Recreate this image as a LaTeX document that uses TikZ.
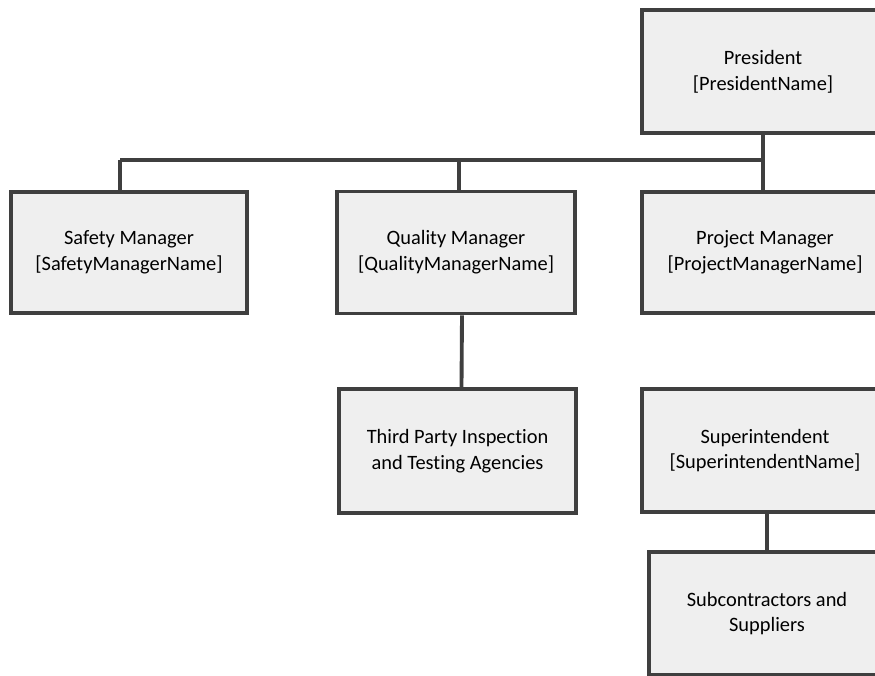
\documentclass[tikz,border=0pt]{standalone}
\usepackage{fontspec}
\setmainfont[Ligatures={NoCommon}]{Carlito}
\definecolor{linec}{HTML}{3F3F3F}
\definecolor{boxf}{HTML}{EFEFEF}
\tikzset{
  box/.style={draw=linec, fill=boxf, line width=2.9pt, align=center,
    font=\fontsize{15.3}{19.3}\selectfont, inner sep=0pt, text=black},
  conn/.style={draw=linec, line width=2.9pt}
}
\begin{document}
\begin{tikzpicture}[x=0.75pt,y=-0.75pt]
\useasboundingbox (0,0) rectangle (875,675);
\clip (0,0) rectangle (875,675);
\node[box, minimum width=181.5pt, minimum height=92.25pt] (pres) at (763,71.5) {President\\{[PresidentName]}};
\node[box, minimum width=177pt, minimum height=90.75pt] (safety) at (129,252.5) {Safety Manager\\{[SafetyManagerName]}};
\node[box, minimum width=178.5pt, minimum height=91.5pt] (quality) at (456,252.5) {Quality Manager\\{[QualityManagerName]}};
\node[box, minimum width=184.5pt, minimum height=90.75pt] (pm) at (765,252.5) {Project Manager\\{[ProjectManagerName]}};
\node[box, minimum width=177.75pt, minimum height=93pt] (third) at (457.5,451) {Third Party Inspection\\and Testing Agencies};
\node[box, minimum width=184.5pt, minimum height=92.25pt] (super) at (765,450.5) {Superintendent\\{[SuperintendentName]}};
\node[box, minimum width=177pt, minimum height=92.25pt] (sub) at (767,613.5) {Subcontractors and\\Suppliers};
\coordinate (busL) at (120,160);
\coordinate (busQ) at (459,160);
\coordinate (busR) at (763,160);
\draw[conn] (busL) -- (busR);
\draw[conn] (pres.south) -- (busR);
\draw[conn] (busR) -- (busR |- pm.north);
\draw[conn] (busL) -- (busL |- safety.north);
\draw[conn] (busQ) -- (busQ |- quality.north);
\draw[conn] ([xshift=4.5pt]quality.south) -- ([xshift=3pt]third.north);
\draw[conn] ([xshift=1.5pt]super.south) -- (sub.north);
\end{tikzpicture}
\end{document}
